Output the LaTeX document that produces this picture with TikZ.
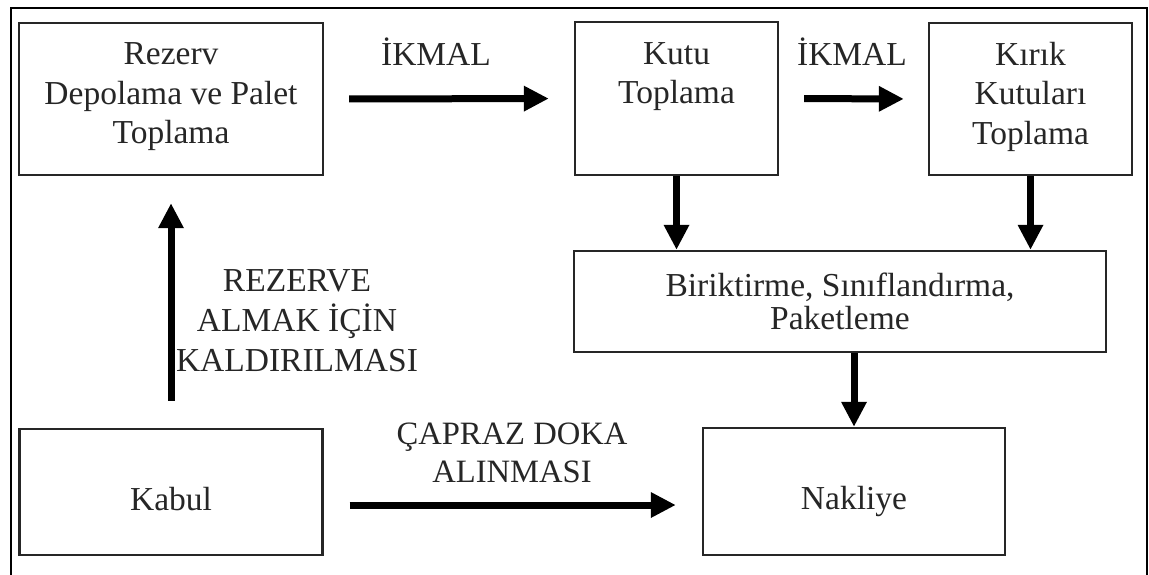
\documentclass[tikz,border=0pt]{standalone}
\usepackage{fontspec}
\setmainfont{Liberation Serif}
\usetikzlibrary{arrows.meta}
\newcommand\myfs{\fontsize{16.75pt}{19.75pt}\selectfont}
\begin{document}
\begin{tikzpicture}[x=0.5pt,y=-0.5pt,
  box/.style={draw=black!85, line width=1.2pt, align=center, inner sep=0pt, text=black!85, font=\myfs},
  arr/.style={-{Triangle[length=12.5pt,width=12pt]}, line width=3.5pt, black},
  lbl/.style={align=center, inner sep=0pt, text=black!85, font=\myfs}]
\useasboundingbox (0,0) rectangle (1149,574);
\fill[white] (0,0) rectangle (1149,574);
\draw[line width=1pt] (11,580) -- (11,8) -- (1147,8) -- (1147,580);

\node[box, minimum width=152pt, minimum height=76pt] (rez) at (171,99) {Rezerv\\Depolama ve Palet\\Toplama\strut};
\node[box, minimum width=101.5pt, minimum height=76.5pt] (kutu) at (676.5,98.5) {Kutu\\Toplama\\\strut};
\node[box, minimum width=101.5pt, minimum height=76pt] (kirik) at (1030.5,99) {Kırık\\Kutuları\\Toplama\strut};
\node[box, minimum width=266pt, minimum height=50.5pt, font=\fontsize{16.75pt}{16.5pt}\selectfont] (bir) at (840,301.5) {Biriktirme, Sınıflandırma,\\Paketleme};
\node[box, minimum width=151.5pt, minimum height=63pt, text height=18pt, text depth=0pt] (kabul) at (171,492) {Kabul};
\node[box, minimum width=151pt, minimum height=63.5pt, text height=18pt, text depth=0pt] (nak) at (854,491.5) {Nakliye};

\node[lbl, anchor=base] (ik1) at (436,65) {İKMAL};
\node[lbl, anchor=base] (ik2) at (852,65) {İKMAL};
\node[lbl, font=\fontsize{16.75pt}{20pt}\selectfont] (rzl) at (297,321) {REZERVE\\ALMAK İÇİN\\KALDIRILMASI};
\node[lbl, font=\fontsize{16.3pt}{19pt}\selectfont] (cap) at (512,453) {ÇAPRAZ DOKA\\ALINMASI};

\draw[arr, shorten <=12.5pt, shorten >=12.5pt] (rez.east) -- (kutu.west);
\draw[arr, shorten <=12.5pt, shorten >=12pt] (kutu.east) -- (kirik.west);
\draw[arr] (kutu.south) -- (kutu.south |- bir.north);
\draw[arr] (kirik.south) -- (kirik.south |- bir.north);
\draw[arr] (nak.north |- bir.south) -- (nak.north);
\draw[arr, shorten <=13.5pt, shorten >=13.5pt] (kabul.north) -- (rez.south);
\coordinate (c1) at ([yshift=-6.5pt]kabul.east);
\draw[arr, shorten <=13pt, shorten >=13pt] (c1) -- (c1 -| nak.west);
\end{tikzpicture}
\end{document}
